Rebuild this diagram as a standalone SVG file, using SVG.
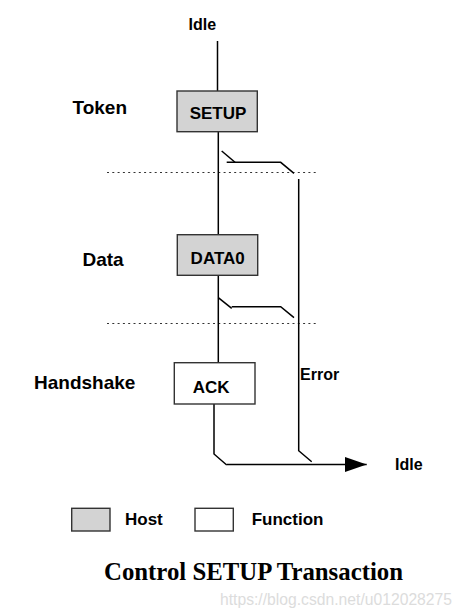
<svg xmlns="http://www.w3.org/2000/svg" width="463" height="613" viewBox="0 0 463 613">
<style>
.lbl{font-family:"Liberation Sans",Arial,sans-serif;font-weight:bold;fill:#000}
.box{stroke:#333;stroke-width:1.4}
.host{fill:#d3d3d3}
.func{fill:#fff}
.ln{fill:none;stroke:#000;stroke-width:1.5}
.dot{fill:none;stroke:#333;stroke-width:1;stroke-dasharray:2 3.3}
</style>
<defs>
<marker id="arr" markerUnits="userSpaceOnUse" markerWidth="24" markerHeight="16" refX="22" refY="7.5" orient="auto">
<path d="M0,0 L22,7.5 L0,15 Z" fill="#000"/>
</marker>
</defs>
<rect width="463" height="613" fill="#fff"/>
<g id="labels">
<text class="lbl" x="188.5" y="30" font-size="16">Idle</text>
<text class="lbl" x="72.5" y="113.5" font-size="19">Token</text>
<text class="lbl" x="82.5" y="265.5" font-size="19">Data</text>
<text class="lbl" x="34" y="389" font-size="19">Handshake</text>
<text class="lbl" x="300" y="379.5" font-size="16">Error</text>
<text class="lbl" x="395" y="469.5" font-size="16">Idle</text>
</g>
<g id="connectors">
<path class="dot" d="M107,172.5 H318"/>
<path class="dot" d="M107,323.5 H318"/>
<path class="ln" d="M217.5,41 V91"/>
<path class="ln" d="M218.3,132 V235"/>
<path class="ln" d="M221.7,151 L235,162.3"/>
<path class="ln" d="M226.7,162.3 H280.7 L294,173.3"/>
<path class="ln" d="M218.3,297.7 L231.7,308.3"/>
<path class="ln" d="M231.7,306.7 H280.7 L294,317.7"/>
<path class="ln" d="M218.3,275.5 V362.7"/>
<path class="ln" d="M298.7,179 V450.7 L311.7,461.7"/>
<path class="ln" d="M214,404 V454 L226.7,465"/>
<path class="ln" d="M226.7,464.5 H366.7" marker-end="url(#arr)"/>
</g>
<g id="setup">
<rect class="box host" x="177" y="91" width="80.3" height="40.7"/>
<text class="lbl" x="218" y="119.3" font-size="17" text-anchor="middle">SETUP</text>
</g>
<g id="data0">
<rect class="box host" x="177.3" y="234.7" width="80.4" height="40.6"/>
<text class="lbl" x="217.7" y="264.3" font-size="17" text-anchor="middle">DATA0</text>
</g>
<g id="ack">
<rect class="box func" x="174.3" y="362.7" width="80.7" height="41.3"/>
<text class="lbl" x="192.7" y="392.7" font-size="17">ACK</text>
</g>
<g id="legend-host">
<rect class="box host" x="71.7" y="508.3" width="38.3" height="22.7"/>
<text class="lbl" x="125" y="525" font-size="17">Host</text>
</g>
<g id="legend-function">
<rect class="box func" x="195" y="508.3" width="38.3" height="22.7"/>
<text class="lbl" x="251.7" y="525" font-size="17">Function</text>
</g>
<text x="104" y="580" font-family="'Liberation Serif','Times New Roman',serif" font-weight="bold" font-size="24.8" fill="#000">Control SETUP Transaction</text>
<text x="220" y="605" font-family="'Liberation Sans',Arial,sans-serif" font-size="15.7" fill="#dcdcdc">https://blog.csdn.net/u012028275</text>
</svg>
